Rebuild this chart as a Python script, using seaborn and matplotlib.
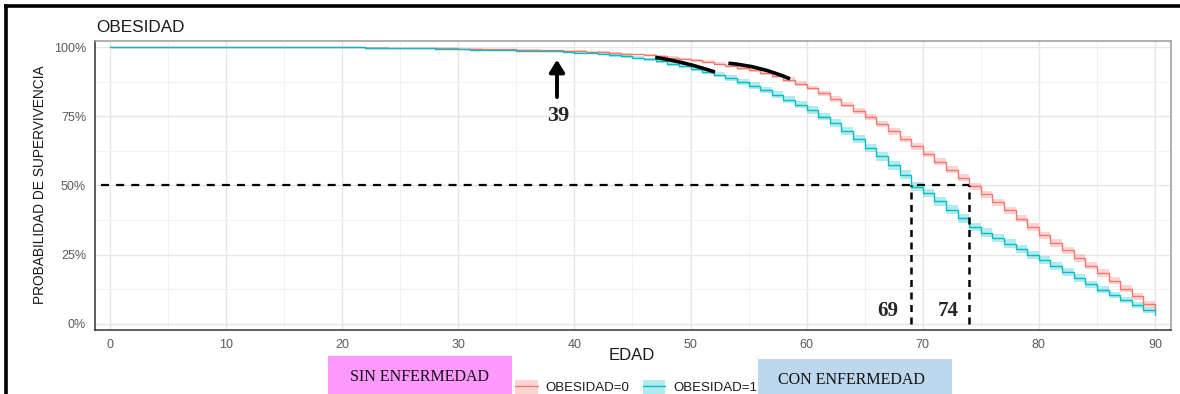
import numpy as np
import pandas as pd
import matplotlib
matplotlib.use("Agg")
import matplotlib.pyplot as plt
import seaborn as sns
from matplotlib.lines import Line2D
from matplotlib.patches import Patch, Rectangle, FancyArrowPatch

# ---- data -------------------------------------------------------------
edad = list(range(0, 91))

# Kaplan-Meier survival (%) by age, OBESIDAD=0
surv_obes0 = [100.0] * 19 + [
    99.9, 99.9, 99.85, 99.8, 99.8, 99.75, 99.7, 99.65, 99.6, 99.55,      # 19-28
    99.5, 99.45, 99.4, 99.3, 99.25, 99.2, 99.1, 99.0, 98.9, 98.8,        # 29-38
    98.7, 98.5, 98.3, 98.1, 97.9, 97.6, 97.3, 97.0, 96.6, 96.2,          # 39-48
    95.7, 95.2, 94.6, 94.0, 93.3, 92.5, 91.6, 90.6, 89.5, 88.2,          # 49-58
    86.8, 85.2, 83.3, 81.3, 79.2, 77.0, 74.7, 72.1, 69.5, 66.8,          # 59-68
    64.1, 61.4, 58.6, 55.7, 52.8, 49.7, 46.8, 43.9, 41.0, 38.0,          # 69-78
    35.0, 32.0, 29.3, 26.6, 23.8, 21.1, 18.4, 15.6, 12.8, 10.0,          # 79-88
    7.2, 4.3,                                                            # 89-90
]

# Kaplan-Meier survival (%) by age, OBESIDAD=1
surv_obes1 = [100.0] * 20 + [
    99.9, 99.9, 99.8, 99.8, 99.7, 99.7, 99.6, 99.5, 99.4, 99.3,          # 20-29
    99.2, 99.1, 99.0, 98.9, 98.8, 98.7, 98.6, 98.5, 98.4, 98.2,          # 30-39
    98.0, 97.7, 97.4, 97.0, 96.6, 96.1, 95.5, 94.8, 94.0, 93.1,          # 40-49
    92.1, 91.1, 90.0, 88.8, 87.5, 86.1, 84.5, 82.8, 81.0, 79.2,          # 50-59
    77.3, 74.9, 72.4, 69.8, 66.9, 63.6, 60.5, 57.3, 53.9, 49.6,          # 60-69
    47.3, 44.3, 41.2, 38.1, 35.0, 33.0, 31.0, 29.0, 27.0, 25.0,          # 70-79
    23.0, 20.8, 18.7, 16.6, 14.4, 12.3, 10.5, 8.7, 6.9, 5.0,             # 80-89
    3.3,                                                                 # 90
]

# half-width of the 95% confidence band (percentage points)
ic_obes0 = [0.0] * 19 + [
    0.05, 0.05, 0.05, 0.05, 0.05, 0.05, 0.05, 0.05, 0.05, 0.05,
    0.1, 0.1, 0.1, 0.1, 0.1, 0.1, 0.15, 0.15, 0.2, 0.2,
    0.2, 0.25, 0.25, 0.3, 0.3, 0.35, 0.35, 0.4, 0.4, 0.45,
    0.45, 0.5, 0.55, 0.6, 0.6, 0.65, 0.7, 0.75, 0.8, 0.85,
    0.85, 0.9, 0.95, 1.0, 1.0, 1.05, 1.1, 1.1, 1.15, 1.15,
    1.2, 1.2, 1.25, 1.25, 1.25, 1.3, 1.3, 1.3, 1.3, 1.35,
    1.35, 1.35, 1.35, 1.35, 1.35, 1.35, 1.35, 1.3, 1.3, 1.25,
    1.2, 1.15,
]
ic_obes1 = [0.0] * 20 + [
    0.05, 0.05, 0.05, 0.05, 0.05, 0.1, 0.1, 0.1, 0.1, 0.15,
    0.15, 0.15, 0.2, 0.2, 0.2, 0.25, 0.25, 0.3, 0.3, 0.35,
    0.35, 0.4, 0.45, 0.5, 0.55, 0.6, 0.65, 0.7, 0.75, 0.8,
    0.85, 0.9, 0.95, 1.0, 1.05, 1.1, 1.15, 1.2, 1.25, 1.3,
    1.35, 1.4, 1.45, 1.5, 1.5, 1.55, 1.55, 1.6, 1.6, 1.6,
    1.6, 1.6, 1.6, 1.6, 1.6, 1.55, 1.55, 1.55, 1.5, 1.5,
    1.45, 1.45, 1.4, 1.35, 1.3, 1.25, 1.2, 1.15, 1.1, 1.05,
    1.0,
]

grupos = ["OBESIDAD=0", "OBESIDAD=1"]
colores = ["#F8766D", "#00BFC4"]
x_ticks = [0, 10, 20, 30, 40, 50, 60, 70, 80, 90]
y_ticks = [0, 25, 50, 75, 100]
y_tick_labels = ["0%", "25%", "50%", "75%", "100%"]
medianas = [69, 74]
edad_marcada = 39

# ---- figure -------------------------------------------------------------
sns.set_style("white")
plt.rcParams["font.family"] = ["Liberation Sans", "DejaVu Sans"]

df = pd.DataFrame({
    "edad": edad * 2,
    "surv": surv_obes0 + surv_obes1,
    "grupo": [grupos[0]] * len(edad) + [grupos[1]] * len(edad),
})

fig = plt.figure(figsize=(11.8, 3.94), dpi=100)
W, H = 1180, 394
ax = fig.add_axes([95 / W, 1 - 330 / H, (1171 - 95) / W, (330 - 41) / H])

# confidence bands
for surv, ic, col in [(surv_obes0, ic_obes0, colores[0]), (surv_obes1, ic_obes1, colores[1])]:
    s = np.array(surv)
    e = np.array(ic)
    ax.fill_between(edad, s - e, s + e, step="post", color=col, alpha=0.3, lw=0, zorder=2)

sns.lineplot(data=df, x="edad", y="surv", hue="grupo", palette=colores,
             drawstyle="steps-post", estimator=None, lw=1.0, legend=False,
             ax=ax, zorder=3)

ax.set_xlim(-1.29, 91.38)
ax.set_ylim(-2.17, 102.17)

# grid (major + minor)
ax.set_xticks(x_ticks)
ax.set_xticks([5, 15, 25, 35, 45, 55, 65, 75, 85], minor=True)
ax.set_yticks(y_ticks)
ax.set_yticks([12.5, 37.5, 62.5, 87.5], minor=True)
ax.set_yticklabels(y_tick_labels)
ax.grid(which="major", color="#E6E6E6", lw=1.0, zorder=0)
ax.grid(which="minor", color="#F2F2F2", lw=0.8, zorder=0)
ax.set_axisbelow(True)
ax.tick_params(axis="both", which="major", length=3.5, width=0.9, color="#333333",
               labelsize=9, labelcolor="#5a5a5a", pad=3)
ax.tick_params(axis="both", which="minor", length=0)

for side in ["left", "bottom"]:
    ax.spines[side].set_color("#333333")
    ax.spines[side].set_linewidth(1.1)
for side in ["top", "right"]:
    ax.spines[side].set_color("#9a9a9a")
    ax.spines[side].set_linewidth(1.1)

ax.set_xlabel("")
ax.set_ylabel("")

# median survival guides
ax.plot([-0.8, max(medianas)], [50, 50], color="black", lw=1.6, dashes=(3.6, 3.2), zorder=4)
for m in medianas:
    ax.plot([m, m], [0, 50], color="black", lw=1.8, dashes=(2.8, 2.2), zorder=4)
ax.text(67.0, 4.7, "69", fontsize=15, fontweight="bold", family="Liberation Serif",
        ha="center", va="center", zorder=5)
ax.text(72.2, 4.7, "74", fontsize=15, fontweight="bold", family="Liberation Serif",
        ha="center", va="center", zorder=5)

# age where the curves start to separate
ax.add_patch(FancyArrowPatch((edad_marcada - 0.5, 80.9), (edad_marcada - 0.5, 96.4),
                             arrowstyle="-|>,head_length=4.5,head_width=2.8",
                             color="black", lw=2.8, mutation_scale=1.6, zorder=5))
ax.text(edad_marcada - 0.35, 75.1, str(edad_marcada), fontsize=16, fontweight="bold",
        family="Liberation Serif", ha="center", va="center", zorder=5)

# curved highlight strokes along the curves
for a, b, r in [((46.72, 96.39), (52.33, 90.61), -0.05),
                ((53.02, 94.22), (58.79, 88.09), -0.09)]:
    ax.add_patch(FancyArrowPatch(a, b, arrowstyle="-", connectionstyle=f"arc3,rad={r}",
                                 color="black", lw=2.6, zorder=5, capstyle="butt"))

# texts around the panel
fig.text(96 / W, 1 - 27 / H, "OBESIDAD", fontsize=12.3, color="#1a1a1a", ha="left", va="center")
fig.text(40 / W, 1 - 185 / H, "PROBABILIDAD DE SUPERVIVENCIA", fontsize=9.9,
         color="#1a1a1a", rotation=90, ha="center", va="center")
fig.text(632 / W, 1 - 356 / H, "EDAD", fontsize=12, color="#1a1a1a", ha="center", va="center")

# legend
handles = [(Patch(facecolor=c, alpha=0.3, edgecolor="none"), Line2D([], [], color=c, lw=1.0))
           for c in colores]
fig.legend(handles, grupos, loc="center", bbox_to_anchor=(636 / W, 1 - 387 / H), ncol=2,
           frameon=False, fontsize=9.5, handlelength=1.7, handleheight=1.3,
           handletextpad=0.6, columnspacing=1.0, labelcolor="#1a1a1a")

# category boxes
fig.add_artist(Rectangle((328 / W, 0), (512 - 328) / W, (394 - 356) / H,
                         transform=fig.transFigure, facecolor="#FF99FF", edgecolor="none", zorder=1))
fig.add_artist(Rectangle((758 / W, 0), (952 - 758) / W, (394 - 359) / H,
                         transform=fig.transFigure, facecolor="#BDD7EE", edgecolor="none", zorder=1))
fig.text(420 / W, 1 - 377 / H, "SIN ENFERMEDAD", fontsize=11.5, family="Liberation Serif",
         color="#111111", ha="center", va="center", zorder=2)
fig.text(851 / W, 1 - 380 / H, "CON ENFERMEDAD", fontsize=11.5, family="Liberation Serif",
         color="#111111", ha="center", va="center", zorder=2)

# outer frame (top and left edges)
fig.add_artist(Line2D([6 / W, 1], [1 - 6 / H, 1 - 6 / H], transform=fig.transFigure,
                      color="black", lw=2.6, solid_capstyle="projecting"))
fig.add_artist(Line2D([6 / W, 6 / W], [0, 1 - 6 / H], transform=fig.transFigure,
                      color="black", lw=2.6, solid_capstyle="projecting"))

fig.savefig("out.png", dpi=100)
